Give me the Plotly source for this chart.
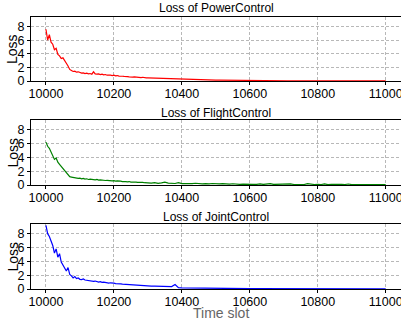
import plotly.graph_objects as go

# time slots: fine step early, coarser later
time_early = list(range(10000, 10301, 5))
time_late = list(range(10310, 11001, 10))
time_slots = time_early + time_late

power_loss = [
    7.6, 6.0, 6.8, 5.7, 5.4, 4.6, 4.8, 3.9, 3.7, 3.3,
    3.4, 2.9, 2.6, 2.2, 1.7, 1.55, 1.4, 1.45, 1.3, 1.35,
    1.2, 1.15, 1.2, 1.1, 1.15, 1.05, 1.1, 1.0, 1.35, 1.05,
    1.0, 1.05, 0.95, 1.0, 0.9, 0.95, 0.85, 0.9, 0.85, 0.8,
    0.85, 0.75, 0.8, 0.72, 0.75, 0.7, 0.68, 0.72, 0.65, 0.62,
    0.65, 0.58, 0.6, 0.55, 0.57, 0.52, 0.5, 0.55, 0.47, 0.45,
    0.47,
    0.45, 0.42, 0.40, 0.36, 0.35, 0.32, 0.30, 0.28, 0.27, 0.25,
    0.24, 0.22, 0.21, 0.20, 0.19, 0.18, 0.17, 0.16, 0.15, 0.14,
    0.13, 0.12, 0.11, 0.10, 0.09, 0.08, 0.08, 0.07, 0.06, 0.06,
    0.05, 0.05, 0.05, 0.04, 0.04, 0.04, 0.04, 0.03, 0.03, 0.03,
    0.03, 0.03, 0.03, 0.02, 0.02, 0.02, 0.02, 0.02, 0.02, 0.02,
    0.02, 0.02, 0.02, 0.02, 0.02, 0.02, 0.02, 0.02, 0.01, 0.01,
    0.01, 0.01, 0.01, 0.01, 0.01, 0.01, 0.01, 0.01, 0.01, 0.01,
]

flight_loss = [
    6.2, 5.6, 5.3, 4.8, 4.4, 3.7, 3.9, 3.3, 3.0, 2.7,
    2.4, 2.1, 1.9, 1.5, 1.2, 1.15, 1.1, 1.0, 1.05, 0.95,
    1.0, 0.9, 0.95, 0.85, 0.9, 0.8, 0.85, 0.78, 0.82, 0.75,
    0.8, 0.7, 0.75, 0.68, 0.72, 0.65, 0.68, 0.62, 0.66, 0.6,
    0.62, 0.55, 0.6, 0.52, 0.55, 0.5, 0.52, 0.48, 0.45, 0.5,
    0.42, 0.45, 0.4, 0.42, 0.38, 0.4, 0.35, 0.38, 0.33, 0.3,
    0.33,
    0.28, 0.35, 0.25, 0.30, 0.40, 0.28, 0.25, 0.22, 0.35, 0.20,
    0.22, 0.18, 0.20, 0.25, 0.17, 0.16, 0.20, 0.15, 0.22, 0.14,
    0.15, 0.20, 0.13, 0.12, 0.18, 0.12, 0.10, 0.14, 0.10, 0.16,
    0.10, 0.09, 0.15, 0.08, 0.10, 0.20, 0.08, 0.10, 0.12, 0.07,
    0.09, 0.15, 0.07, 0.08, 0.12, 0.07, 0.20, 0.08, 0.07, 0.10,
    0.07, 0.15, 0.06, 0.08, 0.12, 0.06, 0.10, 0.07, 0.14, 0.06,
    0.08, 0.06, 0.10, 0.05, 0.07, 0.05, 0.06, 0.05, 0.04, 0.05,
]

joint_loss = [
    9.2, 8.0, 7.6, 7.0, 6.3, 5.2, 5.8, 4.6, 5.1, 3.9,
    3.4, 3.0, 2.6, 3.1, 2.1, 1.9, 1.6, 1.8, 1.5, 1.6,
    1.4, 1.35, 1.45, 1.3, 1.25, 1.3, 1.15, 1.2, 1.1, 1.15,
    1.05, 1.0, 1.05, 0.95, 0.98, 0.9, 0.92, 0.85, 0.9, 0.82,
    0.85, 0.78, 0.8, 0.72, 0.75, 0.7, 0.68, 0.7, 0.62, 0.65,
    0.6, 0.62, 0.55, 0.58, 0.52, 0.55, 0.5, 0.52, 0.47, 0.48,
    0.45,
    0.43, 0.42, 0.40, 0.38, 0.37, 0.36, 0.35, 0.65, 0.18, 0.15,
    0.14, 0.13, 0.12, 0.11, 0.10, 0.10, 0.09, 0.09, 0.08, 0.08,
    0.07, 0.07, 0.07, 0.06, 0.06, 0.06, 0.06, 0.05, 0.05, 0.05,
    0.05, 0.05, 0.05, 0.05, 0.04, 0.04, 0.04, 0.04, 0.04, 0.04,
    0.04, 0.04, 0.04, 0.03, 0.03, 0.03, 0.03, 0.03, 0.03, 0.03,
    0.03, 0.03, 0.03, 0.03, 0.03, 0.03, 0.03, 0.03, 0.03, 0.03,
    0.03, 0.03, 0.03, 0.03, 0.03, 0.03, 0.03, 0.03, 0.03, 0.03,
]

panel_titles = ["Loss of PowerControl", "Loss of FlightControl", "Loss of JointControl"]
x_ticks = [10000, 10200, 10400, 10600, 10800, 11000]
y_ticks = [0, 2, 4, 6, 8]

series = [power_loss, flight_loss, joint_loss]
colors = ["red", "green", "blue"]

W, H = 401, 321
L = 31
panels_px = [(17, 81), (120, 185), (224, 289)]
title_px = [8, 113, 217]

FONT = "Liberation Sans, Arial, sans-serif"

fig = go.Figure()
for i, (ys, c) in enumerate(zip(series, colors)):
    n = "" if i == 0 else str(i + 1)
    fig.add_trace(go.Scatter(x=time_slots, y=ys, mode="lines",
                             line=dict(color=c, width=1.2),
                             xaxis="x" + n, yaxis="y" + n, showlegend=False,
                             cliponaxis=True))

layout = dict(
    width=W, height=H,
    margin=dict(l=L, r=0, t=0, b=0, pad=0, autoexpand=False),
    paper_bgcolor="white", plot_bgcolor="white",
    font=dict(family=FONT, size=12, color="black"),
    showlegend=False,
)
annotations = []
for i, (top, bot) in enumerate(panels_px):
    n = "" if i == 0 else str(i + 1)
    d0 = 1 - bot / H
    d1 = 1 - top / H
    layout["xaxis" + n] = dict(
        domain=[0, 1], range=[9956, 11045], anchor="y" + n,
        tickvals=x_ticks, ticktext=[str(v) for v in x_ticks],
        showgrid=True, gridcolor="#b8b8b8", griddash="3px,2px", gridwidth=0.8,
        showline=True, linecolor="black", linewidth=1.2, mirror=True,
        ticks="outside", ticklen=3, tickcolor="black",
        tickfont=dict(size=12.5, family=FONT, color="black"),
        ticklabeloverflow="allow", ticklabelstandoff=-2,
        zeroline=False, automargin=False,
    )
    layout["yaxis" + n] = dict(
        domain=[d0, d1], range=[0, 9.4], anchor="x" + n,
        tickvals=y_ticks,
        showgrid=True, gridcolor="#b8b8b8", griddash="3px,2px", gridwidth=0.8,
        showline=True, linecolor="black", linewidth=1.2,
        ticks="outside", ticklen=3, tickcolor="black",
        tickfont=dict(size=12.5, family=FONT, color="black"),
        zeroline=False, automargin=False,
    )
    annotations.append(dict(text=panel_titles[i], xref="paper", yref="paper",
                            x=0.5, y=1 - title_px[i] / H, xanchor="center", yanchor="middle",
                            showarrow=False, borderpad=0,
                            font=dict(size=12, family=FONT, color="black")))
    annotations.append(dict(text="Loss", xref="paper", yref="paper",
                            x=(12 - L) / (W - L), y=(d0 + d1) / 2, textangle=-90,
                            xanchor="center", yanchor="middle",
                            showarrow=False, borderpad=0,
                            font=dict(size=14, family=FONT, color="black")))
annotations.append(dict(text="Time slot", xref="paper", yref="paper",
                        x=(221 - L) / (W - L), y=1 - 313 / H, xanchor="center", yanchor="middle",
                        showarrow=False, borderpad=0,
                        font=dict(size=14, family=FONT, color="#666666")))
layout["annotations"] = annotations
fig.update_layout(**layout)
fig.write_html("out.html", config={"displayModeBar": False},
               post_script="document.body.style.margin='0';document.body.style.overflow='hidden';")
